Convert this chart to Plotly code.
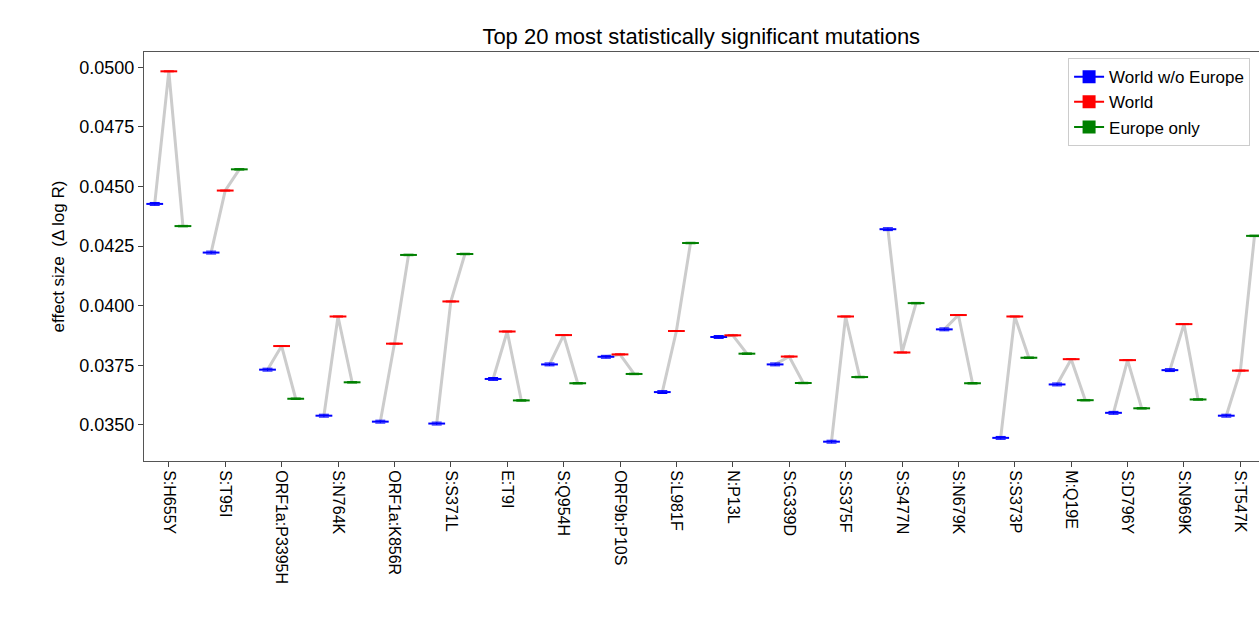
import plotly.graph_objects as go

mutations = ["S:H655Y","S:T95I","ORF1a:P3395H","S:N764K","ORF1a:K856R","S:S371L","E:T9I","S:Q954H",
             "ORF9b:P10S","S:L981F","N:P13L","S:G339D","S:S375F","S:S477N","S:N679K","S:S373P",
             "M:Q19E","S:D796Y","S:N969K","S:T547K"]
world_wo_europe = [0.04427,0.04223,0.03732,0.03539,0.03514,0.03506,0.03693,0.03754,0.03786,0.03638,
                   0.03869,0.03754,0.03430,0.04321,0.03901,0.03446,0.03670,0.03551,0.03730,0.03539]
world = [0.04983,0.04483,0.03831,0.03955,0.03841,0.04018,0.03892,0.03877,0.03796,0.03894,
         0.03876,0.03787,0.03955,0.03804,0.03961,0.03955,0.03776,0.03772,0.03923,0.03728]
europe_only = [0.04334,0.04572,0.03610,0.03679,0.04213,0.04217,0.03603,0.03675,0.03714,0.04263,
               0.03799,0.03676,0.03701,0.04011,0.03675,0.03782,0.03604,0.03570,0.03607,0.04293]
err_wo = [0.00006]*20
err_w = [0.00002]*20
err_eu = [0.00003]*20

off = 0.25
idx = list(range(len(mutations)))
fig = go.Figure()

lx, ly = [], []
for i in idx:
    lx += [i-off, i, i+off, None]
    ly += [world_wo_europe[i], world[i], europe_only[i], None]
fig.add_trace(go.Scatter(x=lx, y=ly, mode="lines", line=dict(color="#cccccc", width=3),
                         showlegend=False, hoverinfo="skip", cliponaxis=False))

for name, vals, err, col, dx in [("World w/o Europe", world_wo_europe, err_wo, "blue", -off),
                                 ("World", world, err_w, "red", 0),
                                 ("Europe only", europe_only, err_eu, "green", off)]:
    fig.add_trace(go.Scatter(x=[i+dx for i in idx], y=vals, mode="markers", name=name,
                             showlegend=False,
                             marker=dict(symbol="line-ew", size=12, color=col,
                                         line=dict(color=col, width=2)),
                             error_y=dict(type="data", array=err, color=col, thickness=1, width=5)))

for name, col in [("World w/o Europe","blue"),("World","red"),("Europe only","green")]:
    fig.add_trace(go.Scatter(x=[None], y=[None], mode="lines+markers", name=name,
                             line=dict(color=col, width=2),
                             marker=dict(symbol="square", size=13, color=col)))

fig.update_layout(
    width=1259, height=635, plot_bgcolor="white", paper_bgcolor="white",
    margin=dict(l=144, r=0, t=52, b=174, autoexpand=False),
    font=dict(family="Liberation Sans, Arial", color="black"),
    title=dict(text="Top 20 most statistically significant mutations", x=0.557, xanchor="center",
               y=0.955, font=dict(size=22)),
    legend=dict(x=0.992, y=0.985, xanchor="right", yanchor="top", bordercolor="#cccccc",
                borderwidth=1, font=dict(size=17), bgcolor="white", tracegroupgap=4),
    xaxis=dict(range=[-0.44, 19.33], tickvals=idx, ticktext=mutations, tickangle=90,
               tickfont=dict(size=16), showgrid=False, zeroline=False, showline=True,
               linecolor="#555", mirror=True, ticks="outside", ticklen=5, automargin=False),
    yaxis=dict(range=[0.03349, 0.05064], tickvals=[0.035,0.0375,0.04,0.0425,0.045,0.0475,0.05],
               tickformat=".4f", tickfont=dict(size=18), showgrid=False, zeroline=False,
               showline=True, linecolor="#555", mirror=True, ticks="outside", ticklen=5,
               automargin=False,
               title=dict(text="effect size  (Δ log R)", font=dict(size=17), standoff=10)),
)
fig.write_html("out.html", config={"displayModeBar": False},
               post_script="document.body.style.margin='0';document.body.style.overflow='hidden';")
